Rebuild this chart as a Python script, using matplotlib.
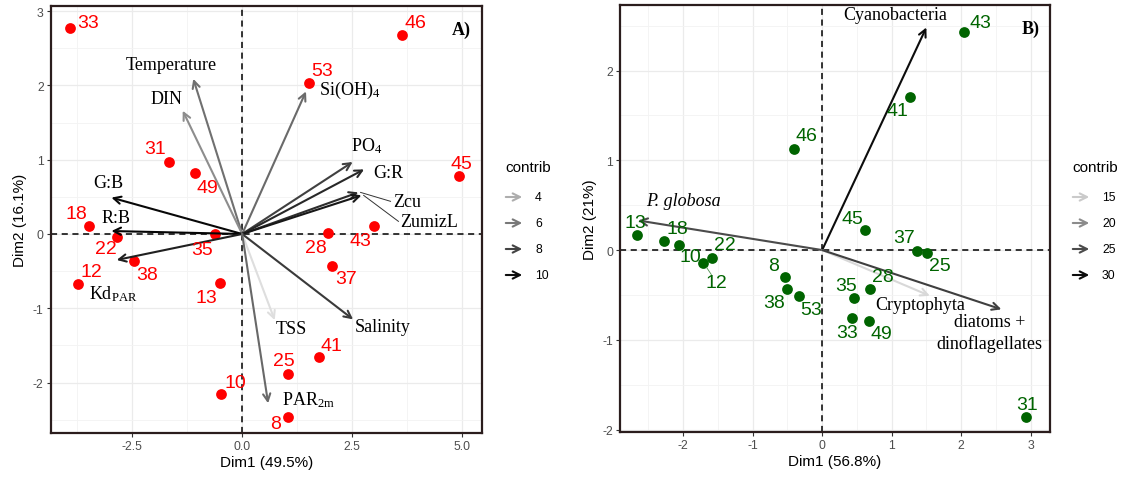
import matplotlib
matplotlib.use("Agg")
import matplotlib.pyplot as plt
from matplotlib.colors import LinearSegmentedColormap, Normalize
from matplotlib.ticker import MultipleLocator

plt.rcParams['font.family'] = ['Liberation Sans', 'DejaVu Sans']
plt.rcParams['axes.unicode_minus'] = False
plt.rcParams['mathtext.fontset'] = 'custom'
plt.rcParams['mathtext.rm'] = 'Liberation Serif'
plt.rcParams['mathtext.it'] = 'Liberation Serif:italic'
plt.rcParams['mathtext.bf'] = 'Liberation Serif:bold'

# ---- panel A: individuals ----
a_ids = ['33', '46', '53', '45', '43', '31', '49', '18', '22', '35',
         '38', '12', '13', '10', '28', '37', '41', '25', '8']
a_x = [-3.90, 3.62, 1.52, 4.93, 2.99, -1.66, -1.08, -3.48, -2.84, -0.62,
       -2.46, -3.73, -0.51, -0.48, 1.95, 2.05, 1.75, 1.03, 1.03]
a_y = [2.78, 2.68, 2.04, 0.78, 0.11, 0.97, 0.82, 0.11, -0.04, 0.00,
       -0.37, -0.67, -0.66, -2.16, 0.01, -0.43, -1.66, -1.88, -2.46]

# ---- panel A: variables ----
a_vars = ['Temperature', 'DIN', 'G:B', 'R:B', r'Kd$_{\mathrm{PAR}}$',
          r'Si(OH)$_{4}$', r'PO$_{4}$', 'G:R', 'Zcu', 'ZumizL', 'TSS',
          'Salinity', r'PAR$_{\mathrm{2m}}$']
a_vx = [-1.11, -1.35, -2.97, -2.97, -2.85, 1.45, 2.51, 2.77, 2.64, 2.71, 0.74, 2.52, 0.59]
a_vy = [2.09, 1.66, 0.49, 0.04, -0.35, 1.92, 0.97, 0.87, 0.56, 0.52, -1.16, -1.15, -2.28]
a_contrib = [6.3, 5.2, 10.2, 10.3, 9.3, 6.5, 8.1, 9.0, 8.8, 9.6, 2.2, 8.3, 6.6]
a_legend_vals = [4, 6, 8, 10]

# ---- panel B: individuals ----
b_ids = ['46', '13', '18', '10', '12', '22', '8', '38', '53', '35',
         '33', '28', '49', '45', '37', '25', '41', '43', '31']
b_x = [-0.40, -2.66, -2.28, -2.06, -1.71, -1.59, -0.53, -0.51, -0.34, 0.46,
       0.43, 0.69, 0.67, 0.62, 1.36, 1.51, 1.27, 2.04, 2.94]
b_y = [1.13, 0.17, 0.10, 0.06, -0.14, -0.09, -0.30, -0.43, -0.51, -0.53,
       -0.76, -0.43, -0.79, 0.22, -0.01, -0.03, 1.71, 2.43, -1.86]

# ---- panel B: variables ----
b_vars = ['Cyanobacteria', 'P. globosa', 'Cryptophyta', 'diatoms +\ndinoflagellates']
b_vx = [1.50, -2.65, 1.55, 2.58]
b_vy = [2.48, 0.33, -0.51, -0.66]
b_contrib = [30, 25, 14, 26]
b_legend_vals = [15, 20, 25, 30]

# label placement (offset pixels for points, data coords for variables)
a_id_off = [(18, 5), (14, 12), (13, 12), (2, 13), (-13, -15), (-14, 13), (13, -14),
            (-13, 12), (-11, -12), (-13, -16), (13, -13), (13, 12), (-13, -14),
            (14, 12), (-12, -14), (14, -13), (12, 12), (-4, 13), (-12, -7)]
a_var_pos = [(-1.60, 2.28), (-1.72, 1.82), (-3.05, 0.70), (-2.87, 0.22), (-2.93, -0.79),
             (2.45, 1.95), (2.83, 1.19), (3.32, 0.83), (3.42, 0.44), (3.60, 0.17),
             (1.12, -1.27), (3.20, -1.24), (1.50, -2.23)]
b_id_off = [(12, 13), (-2, 12), (14, 13), (11, -12), (13, -20), (13, 14), (-12, 11),
            (-13, -14), (13, -14), (-8, 12), (-5, -14), (13, 12), (13, -13),
            (-13, 12), (-13, 13), (13, -13), (-13, -14), (17, 9), (1, 13)]
b_var_pos = [(1.05, 2.62), (-2.0, 0.55), (1.41, -0.61), (2.41, -0.92)]

grey_map = LinearSegmentedColormap.from_list('contrib', ['#f0f0f0', '#000000'])
norm_a = Normalize(1.5, 10.5)
norm_b = Normalize(12, 31)

fig = plt.figure(figsize=(11.23, 4.81), dpi=100)
ax_a = fig.add_axes([0.0451, 0.0977, 0.3838, 0.8877])
ax_b = fig.add_axes([0.5521, 0.0992, 0.3829, 0.8883])


def style_axes(ax, xlim, ylim, xmaj, ymaj, xlab, ylab):
    ax.set_xlim(xlim)
    ax.set_ylim(ylim)
    ax.xaxis.set_major_locator(MultipleLocator(xmaj))
    ax.xaxis.set_minor_locator(MultipleLocator(xmaj / 2))
    ax.yaxis.set_major_locator(MultipleLocator(ymaj))
    ax.yaxis.set_minor_locator(MultipleLocator(ymaj / 2))
    ax.grid(which='major', color='#ebebeb', lw=0.9, zorder=0)
    ax.grid(which='minor', color='#f3f3f3', lw=0.6, zorder=0)
    ax.set_axisbelow(True)
    ax.tick_params(which='major', length=3, width=0.8, color='#333333',
                   labelsize=8.8, labelcolor='#4d4d4d', pad=2)
    ax.tick_params(which='minor', length=0)
    for s in ax.spines.values():
        s.set_color('#2b1d1d')
        s.set_linewidth(1.6)
    ax.axhline(0, color='black', ls=(0, (4, 3)), lw=1.1, zorder=1)
    ax.axvline(0, color='black', ls=(0, (4, 3)), lw=1.1, zorder=1)
    ax.set_xlabel(xlab, fontsize=11, labelpad=2)
    ax.set_ylabel(ylab, fontsize=11, labelpad=4)


def draw_arrow(ax, x, y, color):
    ax.annotate('', xy=(x, y), xytext=(0, 0),
                arrowprops=dict(arrowstyle='->', color=color, lw=1.5,
                                mutation_scale=13, shrinkA=0, shrinkB=0), zorder=4)


def draw_legend(x_px, y_px, values, norm):
    fig.text(x_px / 1123, 1 - y_px / 481, 'contrib', fontsize=11,
             ha='left', va='center')
    for i, v in enumerate(values):
        yy = 481 - (y_px + 30 + i * 26)
        fig.add_artist(matplotlib.patches.FancyArrowPatch(
            ((x_px - 2) / 1123, yy / 481), ((x_px + 20) / 1123, yy / 481),
            transform=fig.transFigure, arrowstyle='->', color=grey_map(norm(v)),
            lw=1.5, mutation_scale=13))
        fig.text((x_px + 30) / 1123, yy / 481, str(v), fontsize=8.8,
                 ha='left', va='center')


# panel A
style_axes(ax_a, (-4.35, 5.44), (-2.68, 3.07), 2.5, 1,
           'Dim1 (49.5%)', 'Dim2 (16.1%)')
ax_a.xaxis.set_major_formatter(matplotlib.ticker.FormatStrFormatter('%.1f'))
ax_a.scatter(a_x, a_y, s=60, color='#ff0000', zorder=3, linewidths=0)
for lab, x, y, off in zip(a_ids, a_x, a_y, a_id_off):
    ax_a.annotate(lab, (x, y), xytext=off, textcoords='offset pixels',
                  color='#ff0000', fontsize=14, ha='center', va='center', zorder=5)
for i, (name, x, y, c, pos) in enumerate(zip(a_vars, a_vx, a_vy, a_contrib, a_var_pos)):
    draw_arrow(ax_a, x, y, grey_map(norm_a(c)))
    ax_a.text(pos[0], pos[1], name, family='Liberation Serif', fontsize=13,
              ha='left' if i in (8, 9) else 'center', va='center', zorder=5)
# leader lines for the crowded labels
for i in (8, 9):
    ax_a.plot([a_var_pos[i][0] - 0.05, a_vx[i] + 0.05], [a_var_pos[i][1], a_vy[i]],
              color='#333333', lw=0.7, zorder=4)
ax_a.text(0.975, 0.965, 'A)', transform=ax_a.transAxes, family='Liberation Serif',
          fontweight='bold', fontsize=13, ha='right', va='top')

# panel B
style_axes(ax_b, (-2.91, 3.28), (-2.03, 2.73), 1, 1,
           'Dim1 (56.8%)', 'Dim2 (21%)')
ax_b.scatter(b_x, b_y, s=60, color='#006400', zorder=3, linewidths=0)
for lab, x, y, off in zip(b_ids, b_x, b_y, b_id_off):
    ax_b.annotate(lab, (x, y), xytext=off, textcoords='offset pixels',
                  color='#006400', fontsize=14, ha='center', va='center', zorder=5)
ax_b.annotate('', (b_x[4], b_y[4]), xytext=(8, -12), textcoords='offset pixels',
              arrowprops=dict(arrowstyle='-', color='#4d8f4d', lw=0.6,
                              shrinkA=0, shrinkB=4))
for name, x, y, c, pos in zip(b_vars, b_vx, b_vy, b_contrib, b_var_pos):
    draw_arrow(ax_b, x, y, grey_map(norm_b(c)))
    style = 'italic' if name.startswith('P.') else 'normal'
    ax_b.text(pos[0], pos[1], name, family='Liberation Serif', fontsize=13,
              fontstyle=style, ha='center', va='center', zorder=5,
              linespacing=1.3)
ax_b.text(0.975, 0.965, 'B)', transform=ax_b.transAxes, family='Liberation Serif',
          fontweight='bold', fontsize=13, ha='right', va='top')

draw_legend(505, 168, a_legend_vals, norm_a)
draw_legend(1072, 168, b_legend_vals, norm_b)

fig.savefig('out.png', dpi=100)
